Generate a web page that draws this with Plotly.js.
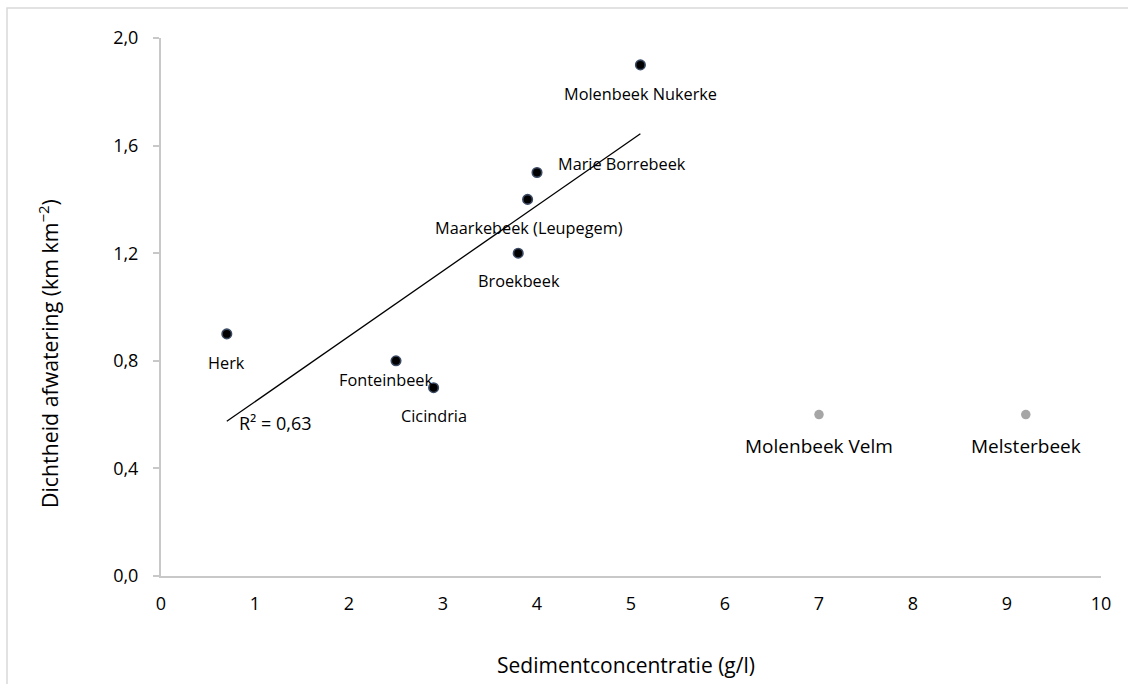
<!DOCTYPE html>
<html>
<head>
<meta charset="utf-8">
<script src="https://cdn.plot.ly/plotly-3.0.1.min.js"></script>
<style>
html,body{margin:0;padding:0;background:#fff;}
#chart{width:1128px;height:684px;}
</style>
</head>
<body>
<div id="chart"></div>
<script>
// Data
const mainNames = ["Herk", "Fonteinbeek", "Cicindria", "Broekbeek", "Maarkebeek (Leupegem)", "Marie Borrebeek", "Molenbeek Nukerke"];
const mainSediment = [0.7, 2.5, 2.9, 3.8, 3.9, 4.0, 5.1];
const mainDensity = [0.9, 0.8, 0.7, 1.2, 1.4, 1.5, 1.9];

const otherNames = ["Molenbeek Velm", "Melsterbeek"];
const otherSediment = [7.0, 9.2];
const otherDensity = [0.6, 0.6];

const yTickVals = [0, 0.4, 0.8, 1.2, 1.6, 2.0];
const yTickText = ["0,0", "0,4", "0,8", "1,2", "1,6", "2,0"];
const xTickVals = [0, 1, 2, 3, 4, 5, 6, 7, 8, 9, 10];

const xTitle = "Sedimentconcentratie (g/l)";
const yTitle = "Dichtheid afwatering (km km<sup>−2</sup>)";

// Linear regression (trendline) on the main series
const n = mainSediment.length;
const mx = mainSediment.reduce((a, b) => a + b, 0) / n;
const my = mainDensity.reduce((a, b) => a + b, 0) / n;
let sxy = 0, sxx = 0, syy = 0;
for (let i = 0; i < n; i++) {
  sxy += (mainSediment[i] - mx) * (mainDensity[i] - my);
  sxx += (mainSediment[i] - mx) ** 2;
  syy += (mainDensity[i] - my) ** 2;
}
const slope = sxy / sxx;
const intercept = my - slope * mx;
const r2 = (sxy * sxy) / (sxx * syy);
const xMin = Math.min(...mainSediment), xMax = Math.max(...mainSediment);
const trendX = [xMin, xMax];
const trendY = trendX.map(v => intercept + slope * v);

// label placement (pixel offsets relative to each point)
const labelOffsets = {
  "Herk": [0, -29],
  "Fonteinbeek": [-10, -19],
  "Cicindria": [0, -28],
  "Broekbeek": [1, -28],
  "Maarkebeek (Leupegem)": [1, -29],
  "Marie Borrebeek": [85, 9],
  "Molenbeek Nukerke": [0, -29],
  "Molenbeek Velm": [0, -31],
  "Melsterbeek": [0, -31]
};

const FONT = "Open Sans, Noto Sans, sans-serif";

const annotations = [];
mainNames.forEach((nm, i) => {
  annotations.push({
    x: mainSediment[i], y: mainDensity[i], xref: "x", yref: "y",
    text: nm, showarrow: false,
    xshift: labelOffsets[nm][0], yshift: labelOffsets[nm][1],
    font: {family: FONT, size: 16.3, color: "#000"}
  });
});
otherNames.forEach((nm, i) => {
  annotations.push({
    x: otherSediment[i], y: otherDensity[i], xref: "x", yref: "y",
    text: nm, showarrow: false,
    xshift: labelOffsets[nm][0], yshift: labelOffsets[nm][1],
    font: {family: FONT, size: 19, color: "#000"}
  });
});
annotations.push({
  x: xMin, y: trendY[0], xref: "x", yref: "y",
  text: "R² = " + r2.toFixed(2).replace(".", ","),
  showarrow: false, xanchor: "left",
  xshift: 10, yshift: -2,
  font: {family: FONT, size: 18, color: "#000"}
});
// axis titles
annotations.push({
  xref: "paper", yref: "paper", x: (626 - 161) / 940, y: (576 - 665) / 538,
  xanchor: "center", yanchor: "middle", showarrow: false,
  text: xTitle, font: {family: FONT, size: 21, color: "#000"}
});
annotations.push({
  xref: "paper", yref: "paper", x: (48 - 161) / 940, y: (576 - 354) / 538,
  xanchor: "center", yanchor: "middle", showarrow: false, textangle: -90,
  text: yTitle, font: {family: FONT, size: 21.3, color: "#000"}
});

const traces = [
  {
    x: trendX, y: trendY, mode: "lines", type: "scatter",
    line: {color: "#000", width: 1.3}, hoverinfo: "skip"
  },
  {
    x: mainSediment, y: mainDensity, mode: "markers", type: "scatter",
    text: mainNames,
    marker: {color: "#000", size: 9.5, line: {color: "#3b4a63", width: 1.6}}
  },
  {
    x: otherSediment, y: otherDensity, mode: "markers", type: "scatter",
    text: otherNames,
    marker: {color: "#a6a6a6", size: 9.5, line: {width: 0}}
  }
];

const layout = {
  width: 1128, height: 684,
  margin: {l: 161, r: 27, t: 38, b: 108},
  paper_bgcolor: "#fff", plot_bgcolor: "#fff",
  showlegend: false,
  font: {family: FONT, color: "#000"},
  xaxis: {
    range: [0, 10], tickvals: xTickVals, ticks: "",
    showgrid: false, zeroline: false,
    showline: true, linecolor: "#c8c8c8", linewidth: 2,
    tickfont: {family: FONT, size: 18, color: "#000"},
    ticklabelstandoff: 10
  },
  yaxis: {
    range: [0, 2.0], tickvals: yTickVals, ticktext: yTickText,
    ticks: "outside", ticklen: 6, tickcolor: "#c8c8c8", tickwidth: 2,
    showgrid: false, zeroline: false,
    showline: true, linecolor: "#c8c8c8", linewidth: 2,
    tickfont: {family: FONT, size: 18, color: "#000"},
    ticklabelstandoff: 11
  },
  annotations: annotations,
  shapes: [{
    type: "rect", xref: "paper", yref: "paper",
    x0: (7 - 161) / 940, x1: 1.2, y0: -0.4, y1: (576 - 8) / 538,
    line: {color: "#d9d9d9", width: 1.5}, layer: "below"
  }]
};

Plotly.newPlot("chart", traces, layout, {displayModeBar: false, staticPlot: true});
</script>
</body>
</html>
